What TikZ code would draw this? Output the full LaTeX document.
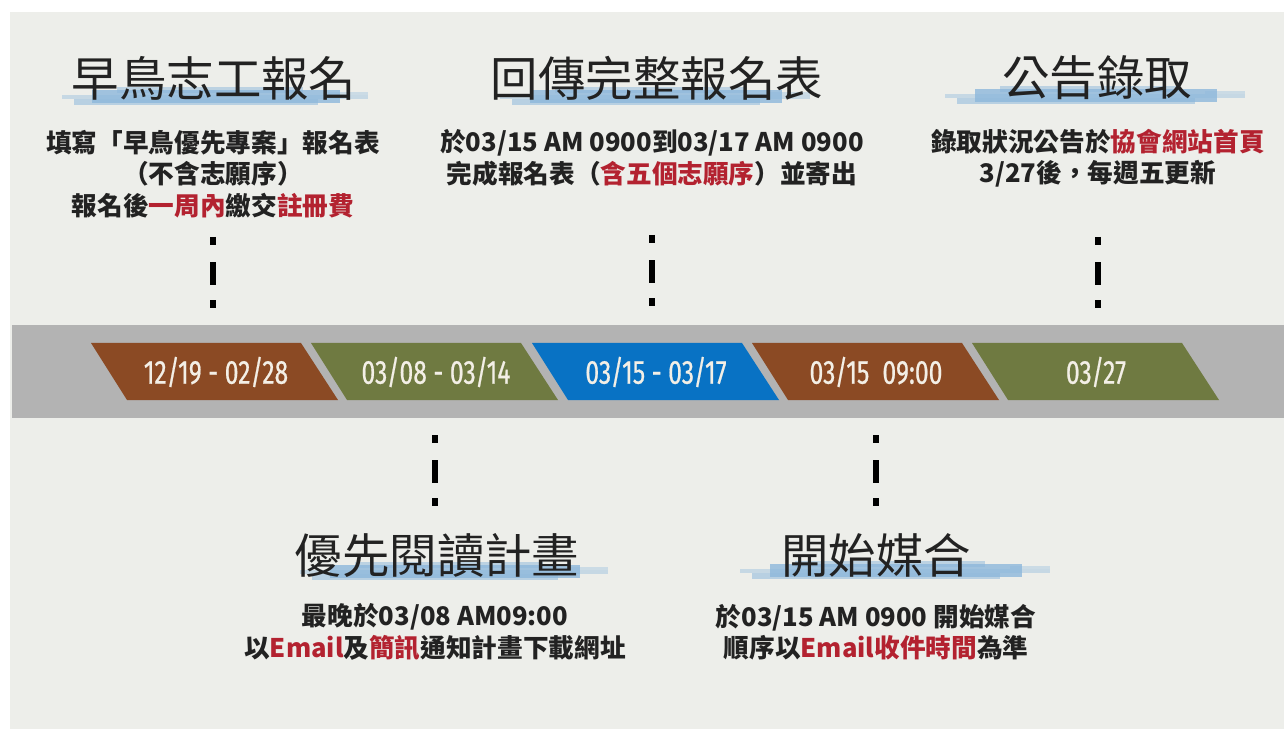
\documentclass[tikz,border=0pt]{standalone}
\usepackage{fontspec}
\newfontfamily\cjk{Noto Sans CJK TC}
\newfontfamily\datefont[FakeStretch=0.74,FakeBold=0.6]{Fira Sans}
\definecolor{paper}{HTML}{EDEEEA}
\definecolor{bandgray}{HTML}{B3B3B3}
\definecolor{rust}{HTML}{8B4A24}
\definecolor{olive}{HTML}{6F7A41}
\definecolor{azure}{HTML}{0872C4}
\definecolor{ink}{HTML}{222222}
\definecolor{accent}{HTML}{B32230}
\definecolor{brushblue}{HTML}{8DB8DC}
\definecolor{stagetext}{HTML}{F3EFE6}
\newcommand{\hot}[1]{\textcolor{accent}{#1}}
% brush under a title: left x, right x, middle y
\newcommand{\brushstroke}[3]{%
  \fill[brushblue,opacity=0.4] (#1,#3-2) rectangle (#2,#3+2);
  \fill[brushblue,opacity=0.8] (#1+30,#3-7) rectangle (#2-28,#3+6);
  \fill[brushblue,opacity=0.55] (#1+12,#3+2) rectangle (#2-50,#3+8);
  \fill[brushblue,opacity=0.5] (#1+55,#3-10) rectangle (#2-65,#3-4);
  \fill[brushblue,opacity=0.35] (#2-40,#3-5) rectangle (#2,#3-2);
}
\begin{document}
\begin{tikzpicture}[x=0.02cm,y=-0.02cm,
    title/.style = {font=\cjk\fontsize{27}{30}\selectfont, text=ink, inner sep=0pt},
    body/.style = {font=\cjk\bfseries\fontsize{14.6}{17.8}\selectfont, text=ink, align=center, inner sep=0pt},
    stage/.style = {font=\datefont\fontsize{19}{21}\selectfont, text=stagetext, inner sep=0pt},
    dots/.style = {line width=2.9pt, dash pattern=on 4.5pt off 10pt on 13pt off 8.5pt on 4.5pt off 20pt}]
    \useasboundingbox (0,0) rectangle (1284,729);
    \fill[paper] (10,12) rectangle (1284,729);
    \fill[bandgray] (12,325) rectangle (1284,418);

    % timeline
    \fill[rust]  (91,343)  -- (301,343)  -- (338,400)  -- (127,400)  -- cycle;
    \fill[olive] (311,343) -- (521,343)  -- (558,400)  -- (347,400)  -- cycle;
    \fill[azure] (532,343) -- (742,343)  -- (779,400)  -- (568,400)  -- cycle;
    \fill[rust]  (752,343) -- (962,343)  -- (999,400)  -- (788,400)  -- cycle;
    \fill[olive] (972,343) -- (1182,343) -- (1219,400) -- (1008,400) -- cycle;
    \node[stage] (d1) at (216,372) {12/19 - 02/28};
    \node[stage] (d2) at (436,372) {03/08 - 03/14};
    \node[stage] (d3) at (656,372) {03/15 - 03/17};
    \node[stage] (d4) at (876,372) {03/15\ \ 09:00};
    \node[stage] (d5) at (1096,372) {03/27};

    % upper steps
    \brushstroke{62}{368}{97}
    \brushstroke{500}{810}{97}
    \brushstroke{945}{1245}{96}
    \node[title] (t1) at (214,78) {早鳥志工報名};
    \node[title] (t2) at (657,78) {回傳完整報名表};
    \node[title] (t3) at (1097,78) {公告錄取};
    \node[body] (b1) at (213,174) {填寫「早鳥優先專案」報名表\\（不含志願序）\\報名後\hot{一周內}繳交\hot{註冊費}};
    \node[body] (b2) at (652,158) {於03/15 AM 0900到03/17 AM 0900\\完成報名表（\hot{含五個志願序}）並寄出};
    \node[body] (b3) at (1098,158) {錄取狀況公告於\hot{協會網站首頁}\\3/27後，每週五更新};

    % lower steps
    \brushstroke{300}{608}{572}
    \brushstroke{740}{1050}{571}
    \node[title] (t4) at (437,555) {優先閱讀計畫};
    \node[title] (t5) at (876,555) {開始媒合};
    \node[body] (b4) at (435,632) {最晚於03/08 AM09:00\\以\hot{Email}及\hot{簡訊}通知計畫下載網址};
    \node[body] (b5) at (876,632) {於03/15 AM 0900 開始媒合\\順序以\hot{Email收件時間}為準};

    % dotted links
    \coordinate (u1a) at (213,237);  \coordinate (u1b) at (213,309);
    \coordinate (u3a) at (652,235);  \coordinate (u3b) at (652,307);
    \coordinate (u5a) at (1098,237); \coordinate (u5b) at (1098,309);
    \coordinate (l2a) at (435,435);  \coordinate (l2b) at (435,507);
    \coordinate (l4a) at (876,435);  \coordinate (l4b) at (876,507);
    \draw[dots] (u1a) -- (u1b);
    \draw[dots] (u3a) -- (u3b);
    \draw[dots] (u5a) -- (u5b);
    \draw[dots] (l2a) -- (l2b);
    \draw[dots] (l4a) -- (l4b);
\end{tikzpicture}
\end{document}
